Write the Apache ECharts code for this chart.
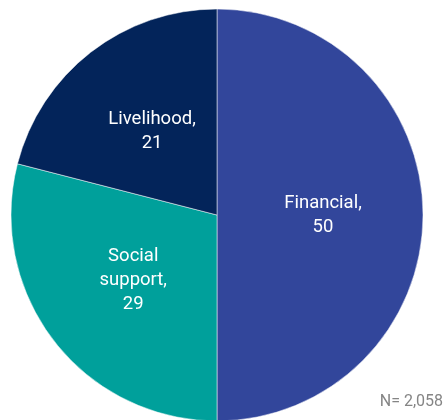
<!DOCTYPE html>
<html>
<head>
<meta charset="utf-8">
<script src="https://cdn.jsdelivr.net/npm/echarts@6/dist/echarts.min.js"></script>
<style>
  html, body { margin: 0; padding: 0; background: #fff; }
  #chart { width: 445px; height: 420px; }
</style>
</head>
<body>
<div id="chart"></div>
<script>
// Support types and their share (%) of respondents
const categories = ['Financial', 'Social support', 'Livelihood'];
const values = [50, 29, 21];
const sliceColors = ['#32469B', '#00A09B', '#03245A'];
const sampleNote = 'N= 2,058';

const FONT = 'Roboto, "Liberation Sans", sans-serif';

const chart = echarts.init(document.getElementById('chart'), null, { renderer: 'canvas' });

chart.setOption({
  animation: false,
  title: {
    text: sampleNote,
    right: 2,
    top: 394,
    padding: 0,
    textStyle: { fontFamily: FONT, fontSize: 16, fontWeight: 'normal', color: '#858585' }
  },
  series: [{
    type: 'pie',
    center: [217, 215],
    radius: [0, 206],
    startAngle: 90,
    clockwise: true,
    silent: true,
    itemStyle: { borderColor: '#ffffff', borderWidth: 0.5 },
    label: {
      show: true,
      position: 'inside',
      color: '#ffffff',
      fontFamily: FONT,
      fontSize: 18.5,
      lineHeight: 24,
      align: 'center',
      formatter: p => p.name.replace(' ', '\n') + ',\n' + p.value
    },
    labelLine: { show: false },
    data: categories.map((name, i) => ({
      name,
      value: values[i],
      itemStyle: { color: sliceColors[i] }
    }))
  }]
});
</script>
</body>
</html>
